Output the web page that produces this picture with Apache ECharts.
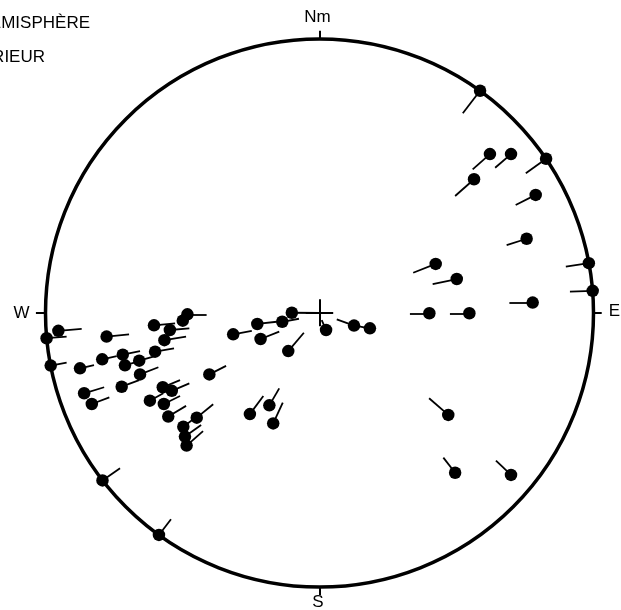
<!DOCTYPE html>
<html><head><meta charset="utf-8">
<script src="https://cdn.jsdelivr.net/npm/echarts@6/dist/echarts.min.js"></script>
<style>html,body{margin:0;padding:0;background:#fff;}#c{width:621px;height:610px;}</style>
</head><body><div id="c"></div>
<script>
// Net coordinates: primitive circle radius = 100, centre (0,0), x east, y north
const poles = [
 [-95.3,-6.5],[-99.6,-9.2],[-98.1,-19.2],[-77.7,-8.6],[-87.4,-20.2],[-79.3,-16.9],[-71.8,-15.2],[-71.0,-19.1],
 [-65.8,-17.4],[-60.0,-14.1],[-65.5,-22.4],[-72.2,-26.9],[-60.4,-4.5],[-54.6,-6.2],[-56.6,-9.9],[-49.9,-2.8],
 [-48.2,-0.5],[-85.9,-29.3],[-83.1,-33.2],[-57.2,-27.1],[-53.9,-28.4],[-61.9,-32.0],[-56.8,-33.2],[-55.2,-37.8],
 [-44.8,-38.2],[-49.7,-41.5],[-49.1,-45.1],[-48.5,-48.4],[-40.2,-22.4],[-31.5,-7.8],[-22.7,-4.0],[-13.6,-3.2],
 [-10.1,0.1],[2.4,-6.2],[12.6,-4.6],[18.4,-5.6],[-21.5,-9.5],[-11.4,-13.9],[-25.4,-36.9],[-18.3,-33.7],
 [-16.9,-40.3],[58.6,81.1],[62.2,58.0],[69.9,58.0],[56.4,48.8],[82.7,56.3],[78.9,43.1],[75.6,27.1],
 [42.4,17.9],[50.1,12.4],[98.3,18.2],[99.7,8.1],[77.8,3.8],[40.1,-0.1],[54.7,-0.1],[47.0,-37.2],
 [49.5,-58.3],[69.9,-59.1],[-79.2,-61.1],[-58.6,-81.0]
];
const striaEnds = [
 [-86.8,-5.8],[-92.3,-8.6],[-92.3,-18.1],[-69.5,-7.8],[-82.3,-19.0],[-74.0,-15.7],[-65.5,-13.9],[-66.7,-17.8],
 [-60.0,-15.7],[-53.1,-12.9],[-58.8,-19.8],[-65.8,-24.5],[-52.7,-3.8],[-47.5,-5.6],[-48.7,-8.6],[-46.9,-1.5],
 [-41.2,-0.5],[-78.6,-27.1],[-76.7,-30.8],[-50.9,-24.5],[-47.5,-25.7],[-57.0,-29.3],[-50.9,-30.3],[-48.7,-33.9],
 [-38.8,-33.3],[-43.6,-36.9],[-43.2,-40.9],[-42.5,-43.1],[-34.1,-19.3],[-24.7,-6.5],[-15.6,-3.2],[-7.5,-2.1],
 [0,0],[0.8,-2.6],[6.3,-2.3],[13.3,-4.7],[-14.7,-6.8],[-5.7,-7.2],[-20.5,-30.3],[-14.7,-27.5],
 [-13.4,-32.7],[52.3,72.9],[55.9,52.4],[64.1,53.0],[49.5,42.7],[75.3,51.0],[71.6,39.4],[68.3,24.8],
 [34.2,14.7],[41.3,10.5],[89.9,16.9],[91.4,7.8],[69.3,3.8],[33.0,-0.1],[47.6,-0.1],[40.0,-31.1],
 [45.2,-52.8],[64.4,-53.9],[-72.8,-56.7],[-54.2,-75.3]
];
const cardinalTicks = [[[0,100],[0,103]],[[-100,0],[-103.5,0]],[[100,0],[103,0]],[[0,-100],[0,-103]]];
const centreCross = [[[-5,0],[5,0]],[[0,-4.8],[0,5]]];
const labels = [
 {text:'Nm', x:317.5, y:17.5},{text:'W', x:21.5, y:313.5},{text:'E', x:614.5, y:311},{text:'S', x:318, y:602}
];

const chart = echarts.init(document.getElementById('c'), null, {renderer:'canvas'});
const FONT = '17px "Liberation Sans", Arial, Helvetica, sans-serif';
const lineData = poles.map((p,i)=>({coords:[p, striaEnds[i]]}));
chart.setOption({
  animation:false,
  grid:{left:45.5, top:39, width:548, height:548},
  xAxis:{type:'value', min:-100, max:100, show:false},
  yAxis:{type:'value', min:-100, max:100, show:false},
  series:[
    {type:'custom', data:[[0,0,100]], silent:true, z:1, clip:false,
     renderItem:function(params, api){
       const c = api.coord([api.value(0), api.value(1)]);
       const r = api.size([api.value(2), 0])[0];
       return {type:'circle', shape:{cx:c[0], cy:c[1], r:r}, style:{fill:'none', stroke:'#000', lineWidth:3.5}};
     }},
    {type:'lines', coordinateSystem:'cartesian2d', z:2, silent:true, clip:false,
     data: cardinalTicks.concat(centreCross).map(s=>({coords:s})),
     lineStyle:{color:'#000', width:2, opacity:1}},
    {type:'lines', coordinateSystem:'cartesian2d', z:3, silent:true, clip:false,
     data: lineData, lineStyle:{color:'#000', width:1.8, opacity:1}},
    {type:'scatter', z:4, data: poles, symbol:'circle', symbolSize:12.5, clip:false,
     itemStyle:{color:'#000', opacity:1}, silent:true}
  ],
  graphic: labels.map(l=>({type:'text', x:l.x, y:l.y,
      style:{text:l.text, font:FONT, fill:'#000', textAlign:'center', textVerticalAlign:'middle'}}))
    .concat([
      {type:'text', x:90, y:23, style:{text:'HÉMISPHÈRE', font:FONT, fill:'#000', textAlign:'right', textVerticalAlign:'middle'}},
      {type:'text', x:45, y:57, style:{text:'INFÉRIEUR', font:FONT, fill:'#000', textAlign:'right', textVerticalAlign:'middle'}}
    ])
});
</script></body></html>
